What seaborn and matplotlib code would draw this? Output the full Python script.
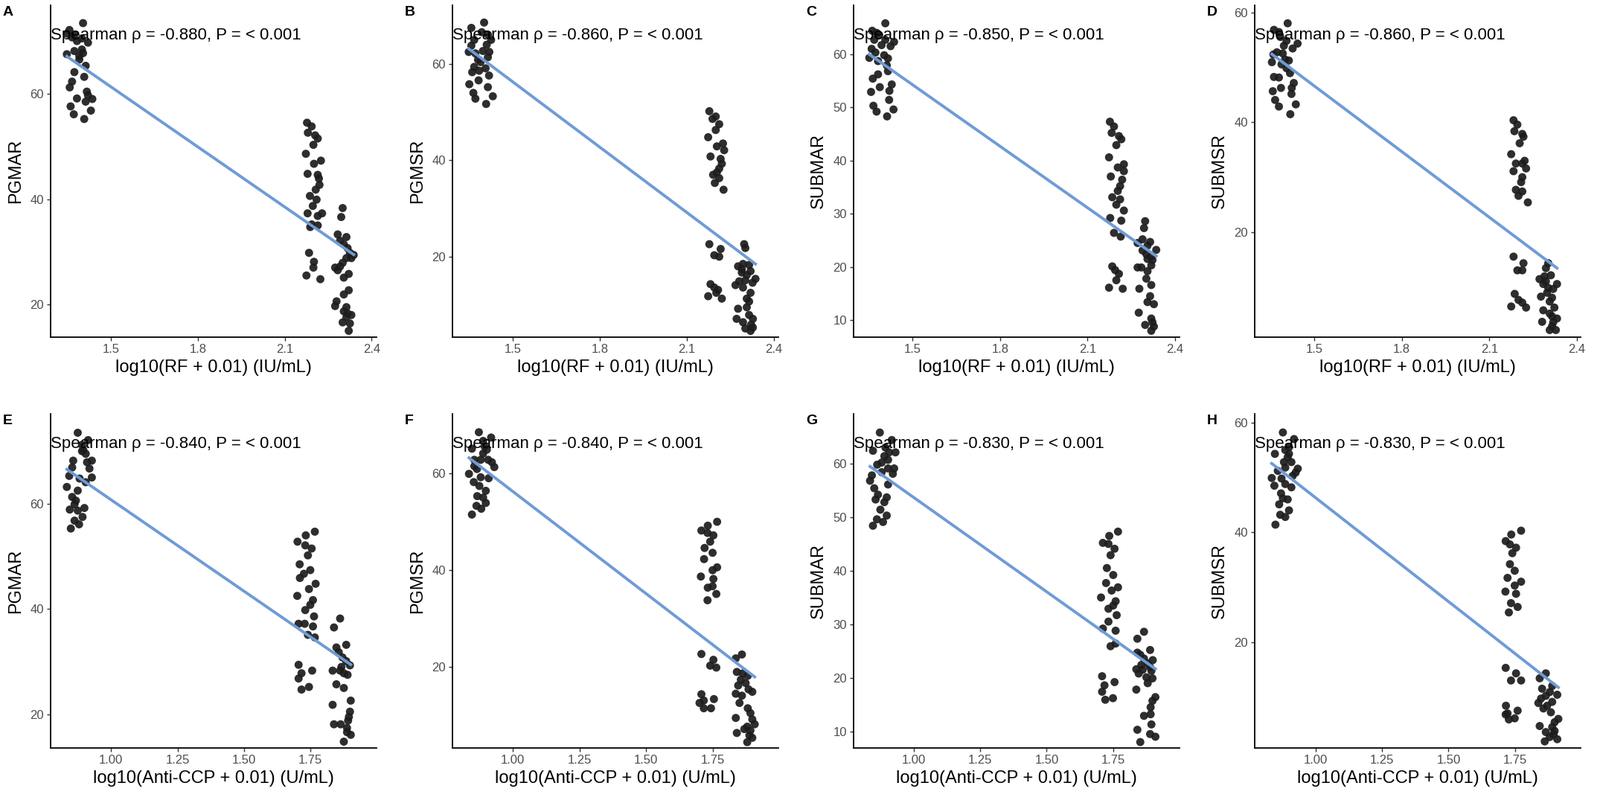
import matplotlib
matplotlib.use("Agg")
import matplotlib.pyplot as plt
import seaborn as sns

# ---- data (jittered patient values) ----
# top row: x = log10(RF + 0.01)
A_x = [1.404, 1.357, 1.348, 1.374, 1.400, 1.421, 1.383, 1.374, 1.400, 1.348, 1.391, 1.391, 1.413, 1.374,
       1.408, 1.366, 1.358, 1.417, 1.421, 1.383, 1.436, 1.413, 1.361, 1.431, 1.372, 1.408, 1.404, 1.366,
       2.177, 2.193, 2.180, 2.205, 2.214, 2.199, 2.173, 2.201, 2.225, 2.179, 2.214, 2.218, 2.220, 2.207,
       2.187, 2.210, 2.197, 2.179, 2.214, 2.229, 2.193, 2.214, 2.188, 2.184, 2.201, 2.199, 2.175, 2.223,
       2.300, 2.295, 2.283, 2.313, 2.291, 2.304, 2.317, 2.325, 2.338, 2.313, 2.300, 2.274, 2.283, 2.321,
       2.304, 2.321, 2.304, 2.279, 2.274, 2.313, 2.304, 2.317, 2.330, 2.313, 2.300, 2.325, 2.321, 2.291, 2.330]
A_y = [73.4, 72.1, 71.4, 71.2, 70.5, 69.7, 70.0, 68.1, 68.4, 67.5, 67.2, 66.5, 65.3, 64.1,
       63.2, 62.3, 61.2, 60.4, 59.7, 59.1, 59.0, 58.5, 57.6, 56.8, 56.1, 55.2, 67.7, 70.7,
       54.5, 53.8, 52.6, 52.1, 51.5, 50.3, 48.6, 46.7, 47.3, 44.8, 44.6, 43.9, 42.7, 41.8,
       40.6, 39.9, 38.7, 37.3, 36.8, 37.3, 35.2, 35.0, 34.7, 29.8, 28.1, 27.0, 25.5, 24.8,
       38.3, 36.6, 33.3, 32.8, 32.1, 31.4, 30.7, 29.8, 29.4, 28.8, 27.9, 27.0, 26.5, 25.8,
       25.1, 22.7, 21.9, 20.6, 19.7, 19.5, 18.7, 18.3, 18.0, 17.6, 16.6, 16.4, 15.0, 27.2, 28.8]

B_x = [1.401, 1.357, 1.393, 1.414, 1.425, 1.357, 1.348, 1.371, 1.397, 1.414, 1.389, 1.367, 1.406, 1.384,
       1.360, 1.418, 1.382, 1.350, 1.414, 1.364, 1.431, 1.371, 1.408, 1.419, 1.380, 1.410, 1.367,
       2.177, 2.188, 2.199, 2.211, 2.199, 2.173, 2.224, 2.203, 2.228, 2.181, 2.216, 2.220, 2.211, 2.203,
       2.190, 2.211, 2.196, 2.226, 2.177, 2.216, 2.194, 2.211, 2.181, 2.194, 2.207, 2.173, 2.220, 2.201,
       2.297, 2.301, 2.276, 2.293, 2.314, 2.289, 2.306, 2.319, 2.336, 2.280, 2.301, 2.267, 2.326, 2.293,
       2.319, 2.306, 2.314, 2.276, 2.306, 2.314, 2.327, 2.271, 2.293, 2.321, 2.301, 2.319, 2.327, 2.289]
B_y = [68.6, 67.5, 66.6, 66.1, 65.0, 63.8, 62.5, 62.2, 62.7, 61.4, 60.4, 59.4, 59.1, 58.6,
       58.3, 57.6, 56.6, 55.8, 55.2, 54.0, 53.3, 52.8, 51.7, 62.5, 60.9, 64.0, 65.0,
       50.2, 48.6, 49.1, 47.5, 46.3, 44.8, 43.5, 42.9, 42.1, 40.8, 40.3, 39.3, 38.3, 37.5,
       37.0, 36.3, 35.3, 33.9, 22.6, 21.6, 20.3, 20.0, 14.3, 13.6, 13.1, 11.8, 11.3, 12.5,
       22.6, 21.8, 18.0, 18.5, 18.3, 16.7, 16.2, 17.0, 15.4, 14.9, 15.1, 14.1, 14.6, 13.6,
       12.5, 11.3, 10.7, 9.2, 9.5, 7.9, 7.1, 7.1, 6.4, 5.9, 5.1, 4.6, 5.3, 17.4]

C_x = [1.406, 1.361, 1.385, 1.368, 1.406, 1.436, 1.424, 1.359, 1.372, 1.402, 1.351, 1.415, 1.381, 1.411,
       1.415, 1.381, 1.363, 1.428, 1.387, 1.420, 1.357, 1.419, 1.365, 1.434, 1.376, 1.412, 1.393, 1.376,
       2.177, 2.191, 2.183, 2.208, 2.216, 2.199, 2.174, 2.204, 2.225, 2.180, 2.225, 2.219, 2.212, 2.204,
       2.185, 2.212, 2.199, 2.225, 2.178, 2.216, 2.191, 2.214, 2.185, 2.195, 2.208, 2.199, 2.174, 2.221,
       2.298, 2.294, 2.272, 2.289, 2.315, 2.306, 2.336, 2.289, 2.302, 2.319, 2.306, 2.323, 2.272, 2.285,
       2.319, 2.306, 2.302, 2.319, 2.278, 2.315, 2.306, 2.328, 2.276, 2.319, 2.323, 2.298, 2.328, 2.319]
C_y = [65.8, 64.4, 63.6, 62.7, 62.7, 62.3, 61.5, 61.0, 60.3, 59.8, 59.3, 59.2, 58.7, 57.9,
       56.8, 56.2, 55.4, 54.3, 53.8, 53.1, 52.9, 51.4, 50.3, 49.6, 49.2, 48.3, 61.7, 64.0,
       47.3, 46.4, 45.2, 44.6, 44.0, 42.9, 40.6, 38.7, 39.3, 37.0, 38.0, 36.4, 35.2, 34.3,
       33.1, 32.7, 31.7, 30.6, 29.2, 28.7, 26.4, 25.7, 20.1, 19.4, 18.7, 17.5, 16.1, 15.9,
       28.6, 27.3, 24.5, 25.2, 24.7, 24.0, 23.2, 23.1, 22.4, 22.0, 21.5, 21.3, 19.9, 19.9,
       20.3, 19.2, 17.8, 16.6, 15.9, 14.5, 13.4, 13.0, 11.4, 10.3, 9.6, 9.1, 8.8, 8.0]

D_x = [1.409, 1.362, 1.384, 1.405, 1.443, 1.426, 1.372, 1.392, 1.360, 1.400, 1.413, 1.355, 1.388, 1.405,
       1.417, 1.362, 1.379, 1.430, 1.386, 1.423, 1.358, 1.422, 1.366, 1.437, 1.379, 1.418, 1.396, 1.379,
       2.183, 2.196, 2.186, 2.213, 2.217, 2.204, 2.175, 2.221, 2.213, 2.191, 2.226, 2.183, 2.213, 2.209,
       2.191, 2.213, 2.200, 2.232, 2.183, 2.217, 2.196, 2.213, 2.187, 2.200, 2.213, 2.175, 2.226,
       2.302, 2.294, 2.272, 2.289, 2.311, 2.332, 2.285, 2.302, 2.319, 2.298, 2.277, 2.315, 2.307, 2.323,
       2.285, 2.307, 2.315, 2.332, 2.281, 2.319, 2.307, 2.328, 2.315, 2.294]
D_y = [58.1, 56.9, 55.6, 54.9, 54.4, 53.5, 52.8, 52.6, 52.4, 51.5, 51.3, 51.0, 50.6, 49.9,
       49.0, 48.3, 48.2, 47.2, 46.3, 46.3, 45.7, 45.2, 44.1, 43.3, 42.9, 41.5, 54.0, 56.5,
       40.4, 39.6, 38.4, 37.9, 37.4, 36.2, 34.2, 33.0, 32.5, 32.5, 31.6, 31.1, 30.0, 29.1,
       27.7, 27.4, 26.6, 25.4, 15.5, 14.3, 13.0, 13.0, 8.7, 7.6, 7.1, 6.4, 6.2,
       14.3, 13.4, 11.4, 11.9, 12.1, 10.5, 10.5, 9.8, 9.6, 8.9, 8.2, 8.0, 7.3, 6.2,
       5.7, 5.1, 4.6, 4.2, 3.6, 3.5, 2.1, 2.1, 2.8, 11.0]

# bottom row: x = log10(Anti-CCP + 0.01)
E_x = [0.875, 0.914, 0.891, 0.896, 0.905, 0.858, 0.910, 0.928, 0.854, 0.919, 0.843, 0.928, 0.882, 0.905,
       0.834, 0.875, 0.854, 0.868, 0.863, 0.900, 0.845, 0.875, 0.893, 0.863, 0.880, 0.849, 0.891,
       1.766, 1.732, 1.701, 1.730, 1.754, 1.740, 1.709, 1.749, 1.725, 1.710, 1.769, 1.744, 1.700, 1.759,
       1.749, 1.730, 1.763, 1.705, 1.728, 1.759, 1.740, 1.766, 1.705, 1.756, 1.716, 1.705, 1.744, 1.716,
       1.861, 1.838, 1.884, 1.847, 1.856, 1.870, 1.884, 1.898, 1.833, 1.861, 1.875, 1.889, 1.847, 1.875,
       1.901, 1.833, 1.898, 1.894, 1.838, 1.863, 1.891, 1.887, 1.887, 1.901, 1.875, 1.866]
E_y = [73.5, 72.1, 71.2, 70.2, 69.5, 68.2, 67.9, 68.2, 66.9, 66.7, 65.3, 65.0, 64.8, 64.1,
       63.2, 62.5, 61.3, 60.6, 59.9, 59.2, 58.9, 58.7, 57.5, 56.8, 56.1, 55.3, 70.0,
       54.7, 54.0, 52.8, 52.1, 51.5, 50.2, 48.5, 47.4, 46.7, 45.9, 44.8, 43.8, 42.5, 41.7,
       40.8, 39.8, 38.6, 37.2, 37.2, 36.7, 35.1, 34.6, 29.4, 28.3, 27.8, 26.8, 25.2, 24.7,
       38.2, 36.5, 33.2, 32.7, 31.8, 30.8, 30.1, 29.3, 28.3, 28.3, 27.8, 27.5, 25.7, 25.0,
       22.6, 21.8, 20.5, 19.5, 18.1, 18.1, 18.8, 17.4, 16.6, 16.1, 14.8, 29.0]

F_x = [0.872, 0.918, 0.888, 0.846, 0.902, 0.888, 0.855, 0.879, 0.921, 0.907, 0.855, 0.930, 0.835, 0.879,
       0.909, 0.853, 0.874, 0.898, 0.866, 0.888, 0.898, 0.863, 0.881, 0.846, 0.865, 0.893,
       1.766, 1.731, 1.707, 1.752, 1.730, 1.740, 1.719, 1.749, 1.717, 1.766, 1.749, 1.705, 1.752, 1.731,
       1.749, 1.763, 1.730, 1.707, 1.752, 1.740, 1.763, 1.707, 1.716, 1.754, 1.700, 1.743, 1.716,
       1.859, 1.836, 1.840, 1.862, 1.881, 1.855, 1.873, 1.845, 1.884, 1.898, 1.836, 1.859, 1.850, 1.881,
       1.891, 1.836, 1.898, 1.907, 1.879, 1.891, 1.840, 1.868, 1.898, 1.879, 1.887]
F_y = [68.5, 67.4, 66.7, 65.1, 64.9, 64.1, 62.8, 62.8, 62.3, 62.8, 61.5, 61.3, 59.9, 59.2,
       59.0, 58.2, 57.4, 56.4, 55.3, 55.0, 53.9, 53.3, 52.7, 51.5, 60.9, 65.6,
       50.0, 49.2, 48.2, 47.2, 47.7, 45.9, 44.6, 43.6, 42.3, 40.6, 40.0, 38.7, 38.2, 36.4,
       36.7, 35.1, 33.8, 22.7, 21.5, 20.3, 19.9, 14.4, 13.1, 13.4, 12.6, 11.5, 11.5,
       22.6, 21.8, 19.0, 18.7, 18.2, 17.4, 16.7, 16.2, 15.4, 14.9, 14.5, 14.1, 12.6, 11.5,
       10.5, 9.5, 9.2, 8.2, 7.7, 6.9, 6.4, 7.2, 5.4, 4.5, 5.9]

G_x = [0.871, 0.916, 0.845, 0.892, 0.906, 0.930, 0.888, 0.902, 0.878, 0.861, 0.925, 0.902, 0.878, 0.841,
       0.920, 0.834, 0.902, 0.850, 0.864, 0.897, 0.855, 0.888, 0.873, 0.897, 0.860, 0.883, 0.845,
       1.769, 1.736, 1.712, 1.733, 1.756, 1.741, 1.727, 1.751, 1.724, 1.769, 1.745, 1.705, 1.760, 1.751,
       1.733, 1.764, 1.733, 1.712, 1.760, 1.741, 1.760, 1.709, 1.718, 1.756, 1.709, 1.721, 1.750,
       1.867, 1.842, 1.890, 1.842, 1.853, 1.867, 1.900, 1.881, 1.857, 1.890, 1.838, 1.862, 1.847, 1.895,
       1.876, 1.899, 1.881, 1.838, 1.910, 1.899, 1.892, 1.867, 1.892, 1.895, 1.842, 1.890, 1.910, 1.853]
G_y = [65.8, 64.4, 62.4, 63.0, 62.1, 62.1, 61.4, 60.7, 60.2, 59.8, 59.1, 59.1, 58.4, 57.8,
       58.1, 56.8, 56.1, 55.4, 54.2, 53.7, 53.3, 52.8, 51.4, 50.3, 49.6, 49.1, 48.4,
       47.3, 46.5, 45.2, 45.0, 44.1, 42.9, 40.5, 39.2, 37.7, 36.9, 36.3, 35.0, 34.3, 33.5,
       32.9, 31.7, 30.5, 29.2, 28.8, 25.9, 26.4, 20.3, 18.6, 19.2, 17.4, 15.9, 16.2,
       28.6, 27.3, 25.2, 24.7, 24.3, 23.6, 23.3, 22.7, 22.4, 22.0, 21.6, 21.5, 20.8, 21.3,
       20.1, 19.9, 19.0, 17.8, 16.4, 15.7, 14.5, 12.9, 13.2, 11.3, 10.3, 9.5, 9.0, 8.0]

H_x = [0.877, 0.919, 0.847, 0.886, 0.900, 0.895, 0.881, 0.909, 0.933, 0.925, 0.886, 0.858, 0.835, 0.914,
       0.872, 0.845, 0.886, 0.909, 0.870, 0.895, 0.877, 0.863, 0.900, 0.867, 0.886, 0.849, 0.900,
       1.773, 1.736, 1.715, 1.731, 1.754, 1.740, 1.731, 1.749, 1.722, 1.773, 1.749, 1.714, 1.754, 1.735,
       1.760, 1.727, 1.715, 1.754, 1.735, 1.773, 1.716, 1.722, 1.760, 1.715, 1.749, 1.727,
       1.866, 1.843, 1.890, 1.852, 1.881, 1.909, 1.866, 1.848, 1.890, 1.838, 1.871, 1.857, 1.885, 1.913,
       1.899, 1.843, 1.890, 1.866, 1.899, 1.881, 1.909, 1.862, 1.895]
H_y = [58.2, 57.0, 54.3, 55.0, 54.3, 53.7, 52.8, 52.8, 51.6, 50.9, 51.8, 51.2, 49.9, 50.3,
       49.8, 48.5, 48.8, 48.2, 47.1, 46.0, 46.2, 45.1, 44.0, 43.2, 42.8, 41.4, 55.5,
       40.3, 39.6, 38.4, 37.8, 37.2, 36.2, 34.2, 33.0, 31.7, 31.0, 30.3, 29.2, 28.8, 27.1,
       26.4, 25.4, 15.3, 14.3, 13.0, 13.0, 8.4, 7.0, 7.5, 6.8, 6.1, 5.9,
       14.3, 13.4, 12.0, 11.5, 10.9, 10.4, 10.2, 9.7, 9.1, 8.9, 8.4, 7.9, 7.2, 6.0,
       5.4, 4.7, 4.5, 3.6, 3.8, 2.7, 2.3, 1.9, 3.2]

panel_letters = ['A', 'B', 'C', 'D', 'E', 'F', 'G', 'H']
y_titles = ['PGMAR', 'PGMSR', 'SUBMAR', 'SUBMSR'] * 2
x_titles = ['log10(RF + 0.01) (IU/mL)'] * 4 + ['log10(Anti-CCP + 0.01) (U/mL)'] * 4
rho_vals = [-0.880, -0.860, -0.850, -0.860, -0.840, -0.840, -0.830, -0.830]
p_text = '< 0.001'

x_ticks_rf = [1.5, 1.8, 2.1, 2.4]
x_ticks_ccp = [1.00, 1.25, 1.50, 1.75]
y_ticks = [[20, 40, 60], [20, 40, 60], [10, 20, 30, 40, 50, 60], [20, 40, 60]] * 2

xs = [A_x, B_x, C_x, D_x, E_x, F_x, G_x, H_x]
ys = [A_y, B_y, C_y, D_y, E_y, F_y, G_y, H_y]

# axis ranges as drawn in the reference
x_lims = [(1.292, 2.417), (1.292, 2.415), (1.297, 2.416), (1.296, 2.413),
          (0.773, 1.998), (0.773, 1.996), (0.772, 2.001), (0.771, 1.997)]
y_lims = [(13.8, 76.8), (3.3, 72.2), (6.8, 69.2), (0.8, 61.4),
          (13.6, 77.1), (3.3, 72.3), (6.9, 69.3), (0.7, 61.6)]

plt.rcParams['font.family'] = ['Liberation Sans', 'DejaVu Sans']

W, H = 2150, 1087
fig = plt.figure(figsize=(W / 100, H / 100), dpi=100)
fig.patch.set_facecolor('white')

col_left = [68, 608, 1147, 1686]
ax_w = 438
row_top = [7, 556]
row_bot = [453, 1005]

for i in range(8):
    r, c = divmod(i, 4)
    left = col_left[c] / W
    bottom = 1 - row_bot[r] / H
    height = (row_bot[r] - row_top[r]) / H
    ax = fig.add_axes([left, bottom, ax_w / W, height])

    sns.regplot(x=xs[i], y=ys[i], ax=ax, ci=None,
                scatter_kws=dict(s=62, color='#1c1c1c', alpha=0.92, edgecolors='none'),
                line_kws=dict(color='#6f9bd6', lw=2.8))

    ax.set_xlim(x_lims[i])
    ax.set_ylim(y_lims[i])
    if r == 0:
        ax.set_xticks(x_ticks_rf)
        ax.set_xticklabels(['%.1f' % t for t in x_ticks_rf])
    else:
        ax.set_xticks(x_ticks_ccp)
        ax.set_xticklabels(['%.2f' % t for t in x_ticks_ccp])
    ax.set_yticks(y_ticks[i])

    sns.despine(ax=ax)
    for s in ['left', 'bottom']:
        ax.spines[s].set_linewidth(1.3)
        ax.spines[s].set_color('black')
    ax.tick_params(length=3.5, width=1.0, color='#333333', labelcolor='#4d4d4d',
                   labelsize=12, pad=3)
    ax.set_xlabel(x_titles[i], fontsize=17, labelpad=4)
    ax.set_ylabel(y_titles[i], fontsize=17, labelpad=6)
    ax.grid(False)

    ax.text(0.0, 0.91, 'Spearman \u03c1 = %.3f, P = %s' % (rho_vals[i], p_text),
            transform=ax.transAxes, ha='left', va='center', fontsize=16, color='black')

    fig.text((col_left[c] - 64) / W, 1 - (row_top[r] + 1) / H, panel_letters[i],
             ha='left', va='top', fontsize=14, fontweight='bold')

fig.savefig('out.png', dpi=100, facecolor='white')
